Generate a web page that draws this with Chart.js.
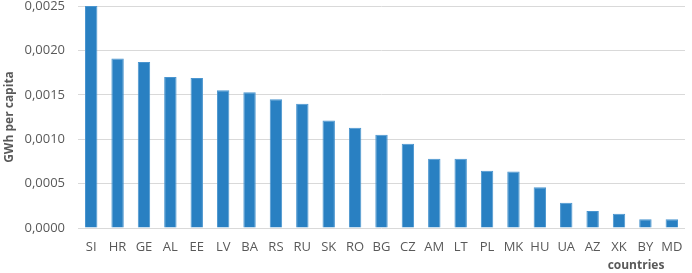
<!DOCTYPE html>
<html><head><meta charset="utf-8">
<script src="https://cdn.jsdelivr.net/npm/chart.js@4"></script>
<style>html,body{margin:0;padding:0;background:#fff}#wrap{width:692px;height:273px}</style>
</head><body><div id="wrap"><canvas id="c" width="692" height="273"></canvas></div>
<script>
const categories = ["SI","HR","GE","AL","EE","LV","BA","RS","RU","SK","RO","BG","CZ","AM","LT","PL","MK","HU","UA","AZ","XK","BY","MD"];
const values = [0.00250,0.00191,0.00187,0.00170,0.00169,0.00155,0.00153,0.00145,0.00140,0.00121,0.00113,0.00105,0.00095,0.00078,0.00078,0.000645,0.000635,0.000458,0.000285,0.000191,0.000161,0.000098,0.000098];
const yTicks = [0,0.0005,0.0010,0.0015,0.0020,0.0025];
const yTitle = "GWh per capita";
const xTitle = "countries";

const xTitlePlugin = {
  id: 'xTitlePlugin',
  afterDraw(chart) {
    const ctx = chart.ctx;
    ctx.save();
    ctx.font = 'bold 12px "Open Sans"';
    ctx.fillStyle = '#595959';
    ctx.textAlign = 'center';
    ctx.textBaseline = 'middle';
    ctx.fillText(xTitle, chart.chartArea.right - 49, 266);
    ctx.restore();
  }
};

new Chart(document.getElementById('c'), {
  type: 'bar',
  data: {
    labels: categories,
    datasets: [{
      data: values,
      backgroundColor: '#2980c2',
      borderColor: '#4a95cf',
      borderWidth: 1,
      categoryPercentage: 1,
      barPercentage: 0.47
    }]
  },
  options: {
    responsive: false,
    animation: false,
    devicePixelRatio: 1,
    layout: { padding: { top: 6, right: 7, bottom: 0, left: 0 } },
    plugins: { legend: { display: false }, tooltip: { enabled: false } },
    scales: {
      x: {
        grid: { display: false },
        border: { display: false },
        afterFit(s) { s.height = 45; s.paddingLeft = 0; s.paddingRight = 0; },
        ticks: { color: '#595959', font: { family: 'Open Sans', size: 13, lineHeight: 1 }, padding: 5, maxRotation: 0, autoSkip: false }
      },
      y: {
        min: 0, max: 0.0025,
        afterBuildTicks(axis) { axis.ticks = yTicks.map(v => ({ value: v })); },
        afterFit(s) { s.width = 78; s.paddingTop = 0; s.paddingBottom = 0; },
        grid: { color: '#d9d9d9', lineWidth: 1, drawTicks: false },
        border: { display: false },
        ticks: {
          color: '#595959', font: { family: 'Open Sans', size: 13, lineHeight: 1 }, padding: 13,
          callback: v => v.toFixed(4).replace('.', ',')
        },
        title: { display: true, text: yTitle, color: '#595959', font: { family: 'Open Sans', size: 12, weight: 'bold' }, padding: { top: 2, bottom: 0 } }
      }
    }
  },
  plugins: [xTitlePlugin]
});
</script></body></html>
